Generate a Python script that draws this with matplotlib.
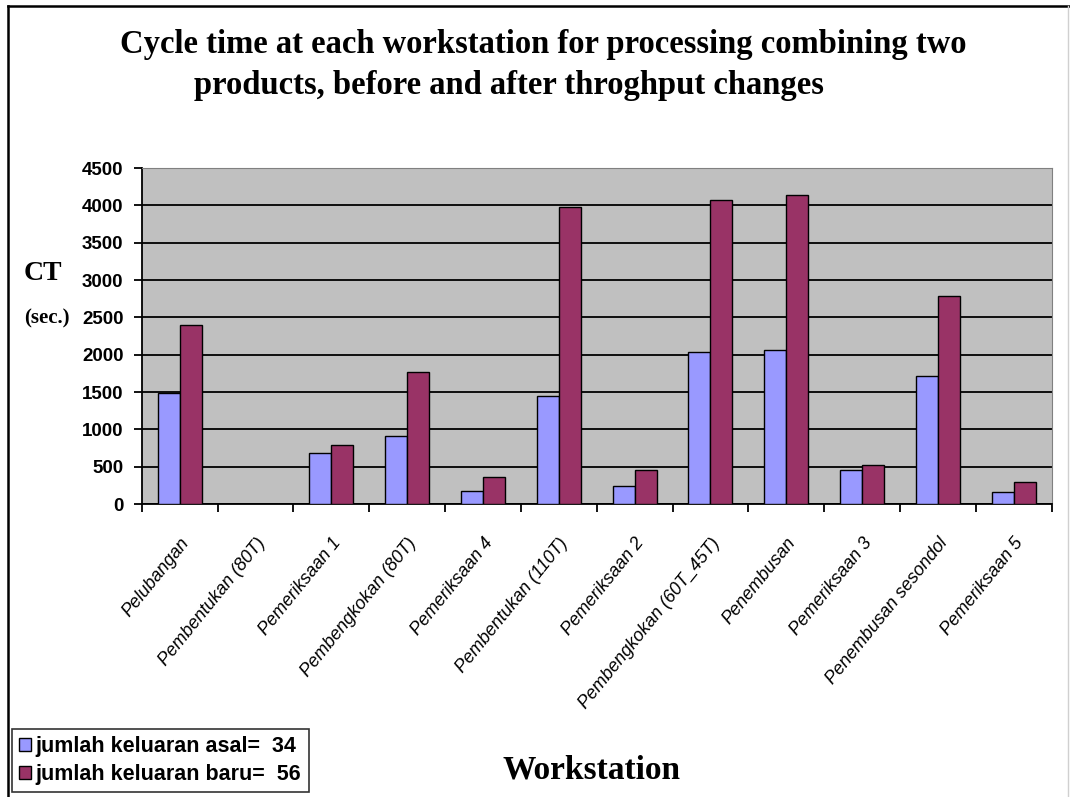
import numpy as np
import matplotlib
matplotlib.use('Agg')
from matplotlib import pyplot as plt
from matplotlib.patches import Patch
from matplotlib.lines import Line2D

#%% data
workstations = ['Pelubangan', 'Pembentukan (80T)', 'Pemeriksaan 1', 'Pembengkokan (80T)',
                'Pemeriksaan 4', 'Pembentukan (110T)', 'Pemeriksaan 2', 'Pembengkokan (60T_45T)',
                'Penembusan', 'Pemeriksaan 3', 'Penembusan sesondol', 'Pemeriksaan 5']
ct_asal = [1490, 0, 680, 910, 175, 1440, 245, 2040, 2060, 450, 1715, 160]
ct_baru = [2400, 0, 790, 1770, 360, 3980, 450, 4070, 4140, 520, 2790, 290]
yticks = [0, 500, 1000, 1500, 2000, 2500, 3000, 3500, 4000, 4500]
label_asal = 'jumlah keluaran asal=  34'
label_baru = 'jumlah keluaran baru=  56'

c_asal = '#9999ff'
c_baru = '#993366'

#%%
fig = plt.figure(figsize=(10.7, 7.97), dpi=100)
ax = fig.add_axes([0.1324, 0.3676, 0.8505, 0.4216])
ax.set_facecolor('#c0c0c0')

x = np.arange(len(workstations))
w = 0.29
ax.bar(x - w / 2, ct_asal, w, color=c_asal, edgecolor='black', linewidth=1, zorder=3)
ax.bar(x + w / 2, ct_baru, w, color=c_baru, edgecolor='black', linewidth=1, zorder=3)

ax.set_xlim(-0.5, len(workstations) - 0.5)
ax.set_ylim(0, 4500)
ax.set_yticks(yticks)
ax.set_yticklabels([str(v) for v in yticks], fontfamily='Liberation Sans',
                   fontweight='bold', fontsize=13.5)
ax.yaxis.grid(True, color='black', linewidth=1.3, zorder=1)
ax.set_axisbelow(True)

ax.set_xticks(x)
ax.set_xticklabels(workstations, rotation=51, ha='right', rotation_mode='anchor',
                   fontfamily='Liberation Sans', fontstyle='italic', fontsize=13)
ax.set_xticks(np.arange(-0.5, len(workstations)), minor=True)
ax.tick_params(axis='x', which='major', length=0, pad=22)
ax.tick_params(axis='x', which='minor', length=6, width=1.3, direction='out')
ax.tick_params(axis='y', length=6, width=1.3, pad=7)

for s in ['top', 'right']:
    ax.spines[s].set_color('#808080')
for s in ['left', 'bottom']:
    ax.spines[s].set_color('black')
    ax.spines[s].set_linewidth(1.3)

# titles and labels
fig.text(0.508, 0.944, 'Cycle time at each workstation for processing combining two',
         ha='center', va='center', fontfamily='Liberation Serif', fontweight='bold', fontsize=23.5)
fig.text(0.476, 0.893, 'products, before and after throghput changes',
         ha='center', va='center', fontfamily='Liberation Serif', fontweight='bold', fontsize=23.5)
fig.text(0.040, 0.657, 'CT', ha='center', va='center', fontfamily='Liberation Serif',
         fontweight='bold', fontsize=20)
fig.text(0.044, 0.601, '(sec.)', ha='center', va='center', fontfamily='Liberation Serif',
         fontweight='bold', fontsize=15)
fig.text(0.553, 0.034, 'Workstation', ha='center', va='center', fontfamily='Liberation Serif',
         fontweight='bold', fontsize=24)

# legend
handles = [Patch(facecolor=c_asal, edgecolor='black', label=label_asal),
           Patch(facecolor=c_baru, edgecolor='black', label=label_baru)]
leg = fig.legend(handles=handles, loc='lower left', bbox_to_anchor=(0.011, 0.006),
                 borderaxespad=0, frameon=True, fancybox=False,
                 handlelength=0.55, handleheight=0.55,
                 handletextpad=0.2, borderpad=0.35, labelspacing=0.3,
                 prop={'family': 'Liberation Sans', 'weight': 'bold', 'size': 15.5})
leg.get_frame().set_edgecolor('black')
leg.get_frame().set_linewidth(1.2)

# outer frame (left and top edges visible)
fig.add_artist(Line2D([0.0075, 0.0075], [0.0, 0.993], color='black', lw=1.8))
fig.add_artist(Line2D([0.0075, 1.0], [0.993, 0.993], color='black', lw=1.8))
fig.add_artist(Line2D([0.998, 0.998], [0.0, 0.993], color='#d0d0d0', lw=1))

plt.savefig('out.png', dpi=100)
